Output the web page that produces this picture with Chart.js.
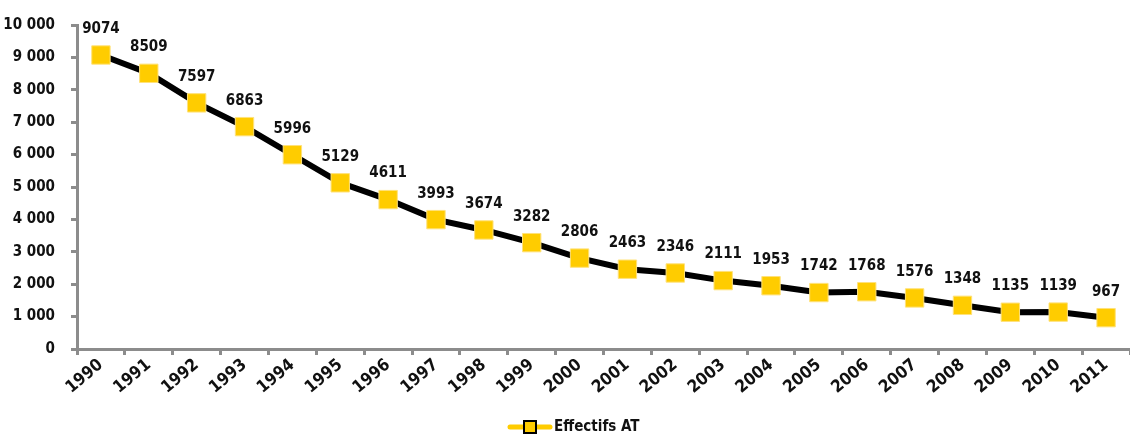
<!DOCTYPE html>
<html>
<head>
<meta charset="utf-8">
<script src="https://cdn.jsdelivr.net/npm/chart.js@4"></script>
<style>
  html, body { margin: 0; padding: 0; background: #fff; }
  #wrap { width: 1130px; height: 435px; }
</style>
</head>
<body>
<div id="wrap"><canvas id="effectifsChart"></canvas></div>
<script>
const years = [
  "1990", "1991", "1992", "1993", "1994", "1995", "1996", "1997", "1998", "1999", "2000",
  "2001", "2002", "2003", "2004", "2005", "2006", "2007", "2008", "2009", "2010", "2011",
];

const effectifs = [
  9074, 8509, 7597, 6863, 5996, 5129, 4611, 3993, 3674, 3282, 2806,
  2463, 2346, 2111, 1953, 1742, 1768, 1576, 1348, 1135, 1139, 967,
];

const seriesName = "Effectifs AT";

const yTicks = [0, 1000, 2000, 3000, 4000, 5000, 6000, 7000, 8000, 9000, 10000];

const FONT = "'Liberation Sans Narrow', 'DejaVu Sans Condensed', 'Liberation Sans', sans-serif";
const YELLOW = "#FFCC00";
const AXIS = "#8c8c8c";

function formatThousands(v) {
  return String(v).replace(/\B(?=(\d{3})+(?!\d))/g, " ");
}

// value labels above each marker
const valueLabels = {
  id: "valueLabels",
  afterDatasetsDraw(chart) {
    const c = chart.ctx;
    const meta = chart.getDatasetMeta(0);
    c.save();
    c.font = "bold 15px " + FONT;
    c.fillStyle = "#111";
    c.textAlign = "center";
    c.textBaseline = "middle";
    meta.data.forEach((pt, i) => {
      c.fillText(String(effectifs[i]), pt.x, pt.y - 26);
    });
    c.restore();
  },
};

// legend at the bottom: yellow line with square marker, then the name
const bottomLegend = {
  id: "bottomLegend",
  afterDraw(chart) {
    const c = chart.ctx;
    const cx = 530;
    const cy = 427;
    c.save();
    c.strokeStyle = YELLOW;
    c.lineWidth = 5;
    c.lineCap = "round";
    c.beginPath();
    c.moveTo(cx - 20, cy);
    c.lineTo(cx + 20, cy);
    c.stroke();
    c.fillStyle = YELLOW;
    c.fillRect(cx - 6, cy - 6, 12, 12);
    c.strokeStyle = "#000";
    c.lineWidth = 2;
    c.strokeRect(cx - 6, cy - 6, 12, 12);
    c.font = "bold 15px " + FONT;
    c.fillStyle = "#111";
    c.textAlign = "left";
    c.textBaseline = "middle";
    c.fillText(seriesName, cx + 24, cy);
    c.restore();
  },
};

const ctx = document.getElementById("effectifsChart");

const chart = new Chart(ctx, {
  type: "line",

  data: {
    labels: years,
    datasets: [
      {
        label: seriesName,
        data: effectifs,
        borderColor: "#000",
        borderWidth: 6,
        tension: 0,
        pointStyle: "rect",
        pointRadius: 13,
        pointBackgroundColor: YELLOW,
        pointBorderColor: "#FFE27A",
        pointBorderWidth: 1,
      },
    ],
  },

  options: {
    responsive: true,
    maintainAspectRatio: false,
    animation: false,
    layout: {
      autoPadding: false,
      padding: { top: 19, right: 0, bottom: 34, left: 0 },
    },

    plugins: {
      legend: { display: false },
      tooltip: { enabled: false },
    },

    scales: {
      x: {
        offset: true,
        afterFit(axis) {
          axis.height = 52;
        },
        grid: {
          display: true,
          drawOnChartArea: false,
          color: AXIS,
          lineWidth: 3,
          tickLength: 6,
          offset: true,
        },
        border: { color: AXIS, width: 3 },
        ticks: {
          color: "#111",
          autoSkip: false,
          minRotation: 40,
          maxRotation: 40,
          padding: 0,
          font: { family: FONT, size: 17, weight: "bold" },
        },
      },

      y: {
        min: 0,
        max: 10000,
        afterBuildTicks(axis) {
          axis.ticks = yTicks.map((v) => ({ value: v }));
        },
        afterFit(axis) {
          axis.width = 77;
        },
        grid: {
          display: true,
          drawOnChartArea: false,
          color: AXIS,
          lineWidth: 3,
          tickLength: 6,
        },
        border: { color: AXIS, width: 3 },
        ticks: {
          color: "#111",
          padding: 16,
          callback: (v) => formatThousands(v),
          font: { family: FONT, size: 15, weight: "bold" },
        },
      },
    },
  },
  plugins: [valueLabels, bottomLegend],
});
</script>
</body>
</html>
